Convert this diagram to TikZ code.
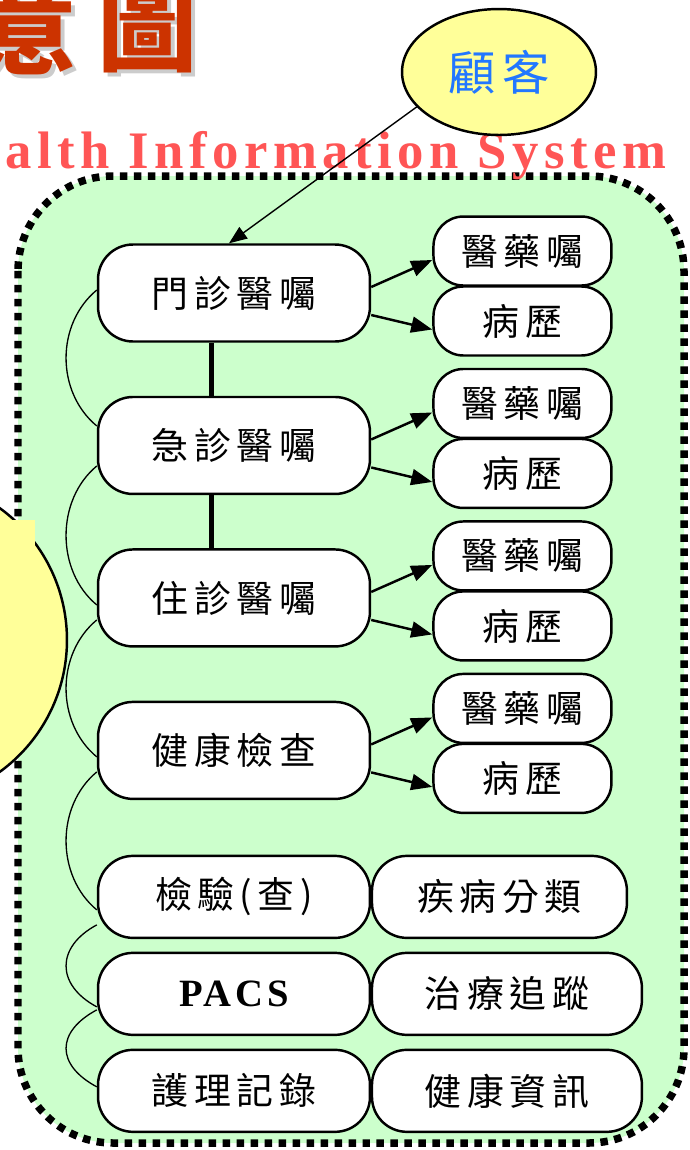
\documentclass[tikz,border=0pt]{standalone}
\usepackage{fontspec}
\setmainfont{Liberation Serif}
\newfontfamily\cjk[LetterSpace=15]{Noto Sans CJK TC}
\newfontfamily\cjkhead{Noto Sans CJK TC}
\usetikzlibrary{arrows.meta,positioning,shapes.geometric}
\pgfdeclarelayer{back}
\pgfdeclarelayer{background}
\pgfsetlayers{back,background,main}
\definecolor{panelgreen}{RGB}{204,255,204}
\definecolor{noteyellow}{RGB}{255,255,153}
\definecolor{titlered}{RGB}{255,85,85}
\definecolor{headred}{RGB}{204,51,0}
\definecolor{custblue}{RGB}{34,119,255}

\tikzset{
  bigbox/.style={draw, line width=1.4pt, fill=white, rounded corners=0.7cm,
    minimum width=5.44cm, minimum height=1.94cm, inner sep=0pt,
    font=\cjk\fontsize{21}{25}\selectfont},
  lowbox/.style={bigbox, minimum height=1.64cm},
  smallbox/.style={bigbox, minimum width=3.56cm, minimum height=1.38cm, rounded corners=0.6cm},
  arr/.style={-{Triangle[length=0.42cm,width=0.32cm]}, line width=1.4pt},
  thinarr/.style={-{Triangle[length=0.36cm,width=0.28cm]}, line width=0.8pt},
  link/.style={line width=0.75pt},
  headchar/.style={font=\cjkhead\bfseries\fontsize{57}{62}\selectfont, inner sep=0pt}
}

\begin{document}
\begin{tikzpicture}[x=0.02cm, y=-0.02cm, node distance=3.05cm, on grid]
  \useasboundingbox (0,0) rectangle (690,1150);
  \begin{pgfonlayer}{back}
    \draw[fill=panelgreen, line width=0.15cm, dash pattern=on 0.15cm off 0.13cm,
      rounded corners=1.9cm] (18,176) rectangle (684,1143);
    \draw[fill=noteyellow, line width=1.4pt] (-96,640) circle [radius=3.26cm];
    \fill[noteyellow] (0,520) rectangle (35,560);
    \node[headchar, text=gray!40] (yishadow) at (32,31) {意};
    \node[headchar, text=gray!40] (tushadow) at (152,31) {圖};
    \node[headchar, text=headred] (yi) at (28,27) {意};
    \node[headchar, text=headred] (tu) at (148,27) {圖};
    \node[anchor=base west, inner sep=0pt, text=titlered,
      font=\fontsize{30}{36}\selectfont\bfseries\addfontfeature{LetterSpace=10.5}]
      (subtitle) at (5,168) {alth Information System};
  \end{pgfonlayer}

  \node[ellipse, draw, fill=noteyellow, line width=1.4pt, minimum width=3.88cm,
    minimum height=2.52cm, inner sep=0pt, text=custblue,
    font=\cjk\fontsize{27}{30}\selectfont] (guke) at (499,72) {顧客};

  \node [bigbox] (menzhen) at (234,293) {門診醫囑};
  \node [bigbox] (jizhen) [below =of menzhen] {急診醫囑};
  \node [bigbox] (zhuzhen) [below =of jizhen] {住診醫囑};
  \node [bigbox] (tijian) [below =of zhuzhen] {健康檢查};
  \node [lowbox] (jianyan) [below =2.93cm of tijian] {檢驗(查)};
  \node [lowbox, font=\fontsize{22}{26}\selectfont\bfseries\addfontfeature{LetterSpace=10}]
    (pacs) [below =1.94cm of jianyan] {PACS};
  \node [lowbox] (huli) [below =1.94cm of pacs] {護理記錄};
  \node [lowbox, minimum width=5.1cm] (jibing) [right =5.31cm of jianyan] {疾病分類};
  \node [lowbox, minimum width=5.4cm] (zhiliao) [right =5.46cm of pacs] {治療追蹤};
  \node [lowbox, minimum width=5.4cm] (zixun) [right =5.46cm of huli] {健康資訊};

  \node [smallbox] (yao1) [above right =0.84cm and 5.77cm of menzhen] {醫藥囑};
  \node [smallbox] (bing1) [below =1.4cm of yao1] {病歷};
  \node [smallbox] (yao2) [above right =0.84cm and 5.77cm of jizhen] {醫藥囑};
  \node [smallbox] (bing2) [below =1.4cm of yao2] {病歷};
  \node [smallbox] (yao3) [above right =0.84cm and 5.77cm of zhuzhen] {醫藥囑};
  \node [smallbox] (bing3) [below =1.4cm of yao3] {病歷};
  \node [smallbox] (yao4) [above right =0.84cm and 5.77cm of tijian] {醫藥囑};
  \node [smallbox] (bing4) [below =1.4cm of yao4] {病歷};

  \draw[thinarr] (guke.203) -- ([xshift=-0.1cm]menzhen.north);

  \path[arr]
  ([yshift=0.12cm]menzhen.east) edge ([yshift=-0.18cm]yao1.west)
  ([yshift=-0.44cm]menzhen.east) edge ([yshift=-0.17cm]bing1.west)
  ([yshift=0.12cm]jizhen.east) edge ([yshift=-0.18cm]yao2.west)
  ([yshift=-0.44cm]jizhen.east) edge ([yshift=-0.17cm]bing2.west)
  ([yshift=0.12cm]zhuzhen.east) edge ([yshift=-0.18cm]yao3.west)
  ([yshift=-0.44cm]zhuzhen.east) edge ([yshift=-0.17cm]bing3.west)
  ([yshift=0.12cm]tijian.east) edge ([yshift=-0.18cm]yao4.west)
  ([yshift=-0.44cm]tijian.east) edge ([yshift=-0.17cm]bing4.west);

  \draw[line width=0.1cm] ([xshift=-0.46cm]menzhen.south) -- ([xshift=-0.46cm]jizhen.north);
  \draw[line width=0.1cm] ([xshift=-0.46cm]jizhen.south) -- ([xshift=-0.46cm]zhuzhen.north);

  \begin{pgfonlayer}{background}
    \draw[link] ([yshift=0.06cm]menzhen.west) .. controls +(-41,34) and +(-41,-34) .. ([yshift=0.39cm]jizhen.west);
    \draw[link] ([yshift=-0.41cm]jizhen.west) .. controls +(-41,34) and +(-41,-34) .. ([yshift=-0.14cm]zhuzhen.west);
    \draw[link] ([yshift=-0.44cm]zhuzhen.west) .. controls +(-41,34) and +(-41,-34) .. ([yshift=-0.13cm]tijian.west);
    \draw[link] ([yshift=-0.43cm]tijian.west) .. controls +(-41,34) and +(-41,-34) .. ([yshift=-0.26cm]jianyan.west);
    \draw[link] ([yshift=-0.56cm]jianyan.west) .. controls +(-41,22) and +(-41,-22) .. ([yshift=-0.26cm]pacs.west);
    \draw[link] ([yshift=-0.32cm]pacs.west) .. controls +(-41,22) and +(-41,-22) .. ([yshift=0.08cm]huli.west);
  \end{pgfonlayer}
\end{tikzpicture}
\end{document}
